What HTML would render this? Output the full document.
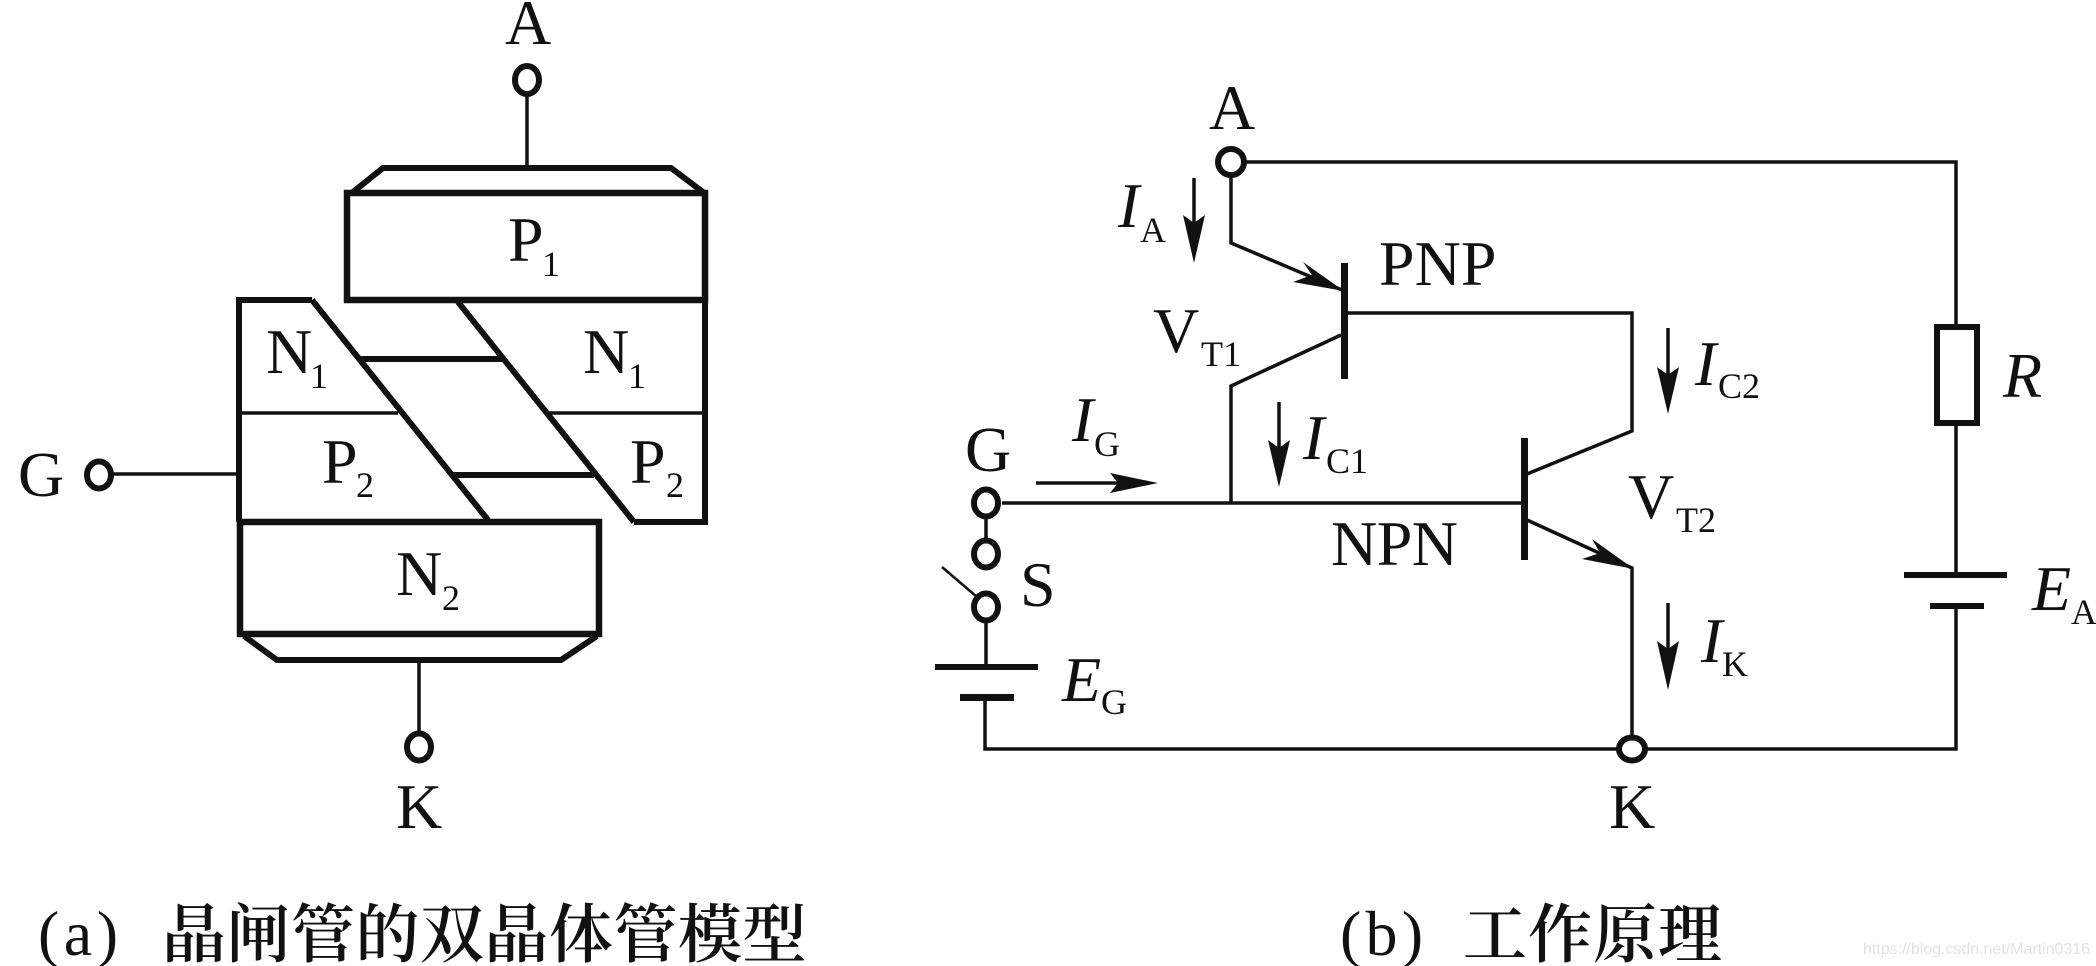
<!DOCTYPE html>
<html><head><meta charset="utf-8">
<style>
html,body{margin:0;padding:0;background:#fff;width:2096px;height:966px;overflow:hidden}
svg{display:block}
text{font-family:"Liberation Serif","Noto Serif CJK SC",serif;fill:#111}
.m{font-size:64px}.s{font-size:36px}.i{font-style:italic}
.c{font-size:64px;font-family:"Noto Serif CJK SC","Liberation Serif",serif;font-weight:600}
.w{stroke:#111;stroke-width:3.5;fill:none}
.t{stroke:#111;stroke-width:6;fill:none}
.o{stroke:#111;stroke-width:6;fill:#fff}
.a{fill:#111;stroke:none}
</style></head><body>
<svg width="2096" height="966" viewBox="0 0 2096 966" xmlns="http://www.w3.org/2000/svg">
<rect width="2096" height="966" fill="#fff"/>

<!-- LEFT MODEL -->
<line class="w" x1="527" y1="92" x2="527" y2="168"/>
<ellipse class="o" cx="527" cy="80" rx="12" ry="14"/>
<polyline class="t" points="353,192 383,168 671,168 703,192"/>
<rect x="347" y="193" width="358" height="107" fill="none" stroke="#111" stroke-width="6.5"/>
<path class="t" d="M312 300H239V522M705 300V522H634"/>
<line class="t" x1="312" y1="300" x2="488" y2="520"/>
<line class="t" x1="458" y1="302" x2="634" y2="522"/>
<line class="t" x1="360" y1="359" x2="502" y2="359"/>
<line class="t" x1="452" y1="475" x2="594" y2="475"/>
<line class="w" x1="239" y1="413" x2="398" y2="413"/>
<line class="w" x1="549" y1="413" x2="705" y2="413"/>
<rect x="240" y="522" width="359" height="112" fill="none" stroke="#111" stroke-width="6.5"/>
<polyline class="t" points="244,636 277,660 561,660 597,636"/>
<line class="w" x1="419" y1="660" x2="419" y2="735"/>
<ellipse class="o" cx="419" cy="747" rx="12" ry="13.5"/>
<line class="w" x1="112" y1="474" x2="239" y2="474"/>
<ellipse class="o" cx="99" cy="475" rx="12" ry="13.5"/>

<text class="m" x="505" y="44">A</text>
<text class="m" x="18" y="496">G</text>
<text class="m" x="396" y="828">K</text>
<text class="m" x="508" y="261">P</text><text class="s" x="542" y="276">1</text>
<text class="m" x="266" y="373">N</text><text class="s" x="310" y="388">1</text>
<text class="m" x="583" y="373">N</text><text class="s" x="628" y="388">1</text>
<text class="m" x="322" y="483">P</text><text class="s" x="356" y="497">2</text>
<text class="m" x="630" y="483">P</text><text class="s" x="666" y="497">2</text>
<text class="m" x="396" y="595">N</text><text class="s" x="442" y="610">2</text>

<text x="38" y="955" style="font-size:64px" textLength="80">(a)</text>
<text class="c" x="162" y="957" letter-spacing="0.5">晶闸管的双晶体管模型</text>

<!-- RIGHT CIRCUIT -->
<path class="w" d="M1246 162H1956V749H1647"/>
<path class="w" d="M1617 749H985V697"/>
<path class="w" d="M1231 177V243L1342 290"/>
<polygon class="a" points="1344,291 1293,282 1312,275 1303,262"/>
<rect class="a" x="1341" y="263" width="7" height="116"/>
<path class="w" d="M1344 313H1632V431L1527 474"/>
<path class="w" d="M1341 335L1231 386V503"/>
<path class="w" d="M1002 503H1525"/>
<rect class="a" x="1521" y="438" width="7" height="122"/>
<path class="w" d="M1527 520L1632 568V735"/>
<polygon class="a" points="1634,569 1582,559 1600,553 1592,539"/>

<ellipse class="o" cx="1231" cy="162" rx="13" ry="13"/>
<ellipse class="o" cx="986" cy="503" rx="12" ry="13.5"/>
<line class="w" x1="986" y1="516" x2="986" y2="541"/>
<ellipse class="o" cx="986" cy="554" rx="12" ry="13.5"/>
<line x1="942" y1="567" x2="977" y2="597" stroke="#111" stroke-width="2.5"/>
<ellipse class="o" cx="986" cy="607" rx="12" ry="13.5"/>
<line class="w" x1="986" y1="620" x2="986" y2="667"/>
<rect class="a" x="935" y="664" width="103" height="6"/>
<rect class="a" x="960" y="694" width="54" height="7"/>
<ellipse class="o" cx="1632" cy="749" rx="13" ry="11.5"/>

<rect x="1937" y="327" width="40" height="96" fill="#fff" stroke="#111" stroke-width="6"/>
<rect class="a" x="1904" y="572" width="103" height="6"/>
<rect fill="#fff" x="1948" y="578" width="16" height="25"/>
<rect class="a" x="1930" y="603" width="54" height="6"/>

<!-- current arrows -->
<g>
<line class="w" x1="1194" y1="178" x2="1194" y2="235"/>
<polygon class="a" points="1194,263 1183,215 1194,223 1205,215"/>
<line class="w" x1="1279" y1="402" x2="1279" y2="460"/>
<polygon class="a" points="1279,487 1268,440 1279,448 1290,440"/>
<line class="w" x1="1668" y1="328" x2="1668" y2="385"/>
<polygon class="a" points="1668,414 1657,367 1668,375 1679,367"/>
<line class="w" x1="1668" y1="603" x2="1668" y2="660"/>
<polygon class="a" points="1668,690 1657,641 1668,649 1679,641"/>
<line class="w" x1="1036" y1="483" x2="1125" y2="483"/>
<polygon class="a" points="1158,483 1110,473 1118,483 1110,493"/>
</g>

<text class="m" x="1209" y="129">A</text>
<text class="m" x="965" y="471">G</text>
<text class="m" x="1609" y="828">K</text>
<text class="m" x="1020" y="606">S</text>
<text class="m" x="1379" y="285">PNP</text>
<text class="m" x="1331" y="565" textLength="127">NPN</text>
<text class="m i" x="1118" y="227">I</text><text class="s" x="1140" y="242">A</text>
<text class="m" x="1153" y="352">V</text><text class="s" x="1201" y="366">T1</text>
<text class="m i" x="1072" y="441">I</text><text class="s" x="1094" y="456">G</text>
<text class="m i" x="1303" y="459">I</text><text class="s" x="1326" y="473">C1</text>
<text class="m i" x="1695" y="385">I</text><text class="s" x="1718" y="398">C2</text>
<text class="m" x="1628" y="518">V</text><text class="s" x="1676" y="532">T2</text>
<text class="m i" x="1701" y="662">I</text><text class="s" x="1722" y="676">K</text>
<text class="m i" x="2003" y="397">R</text>
<text class="m i" x="2032" y="610">E</text><text class="s" x="2071" y="624">A</text>
<text class="m i" x="1062" y="701">E</text><text class="s" x="1101" y="714">G</text>

<text x="1340" y="955" style="font-size:64px" textLength="83">(b)</text>
<text class="c" x="1463" y="957" letter-spacing="1">工作原理</text>

<text x="1863" y="954" style="font-family:'Liberation Sans',sans-serif;font-size:16px;fill:#e2e2e2" textLength="227">https://blog.csdn.net/Martin0316</text>
</svg>
</body></html>
